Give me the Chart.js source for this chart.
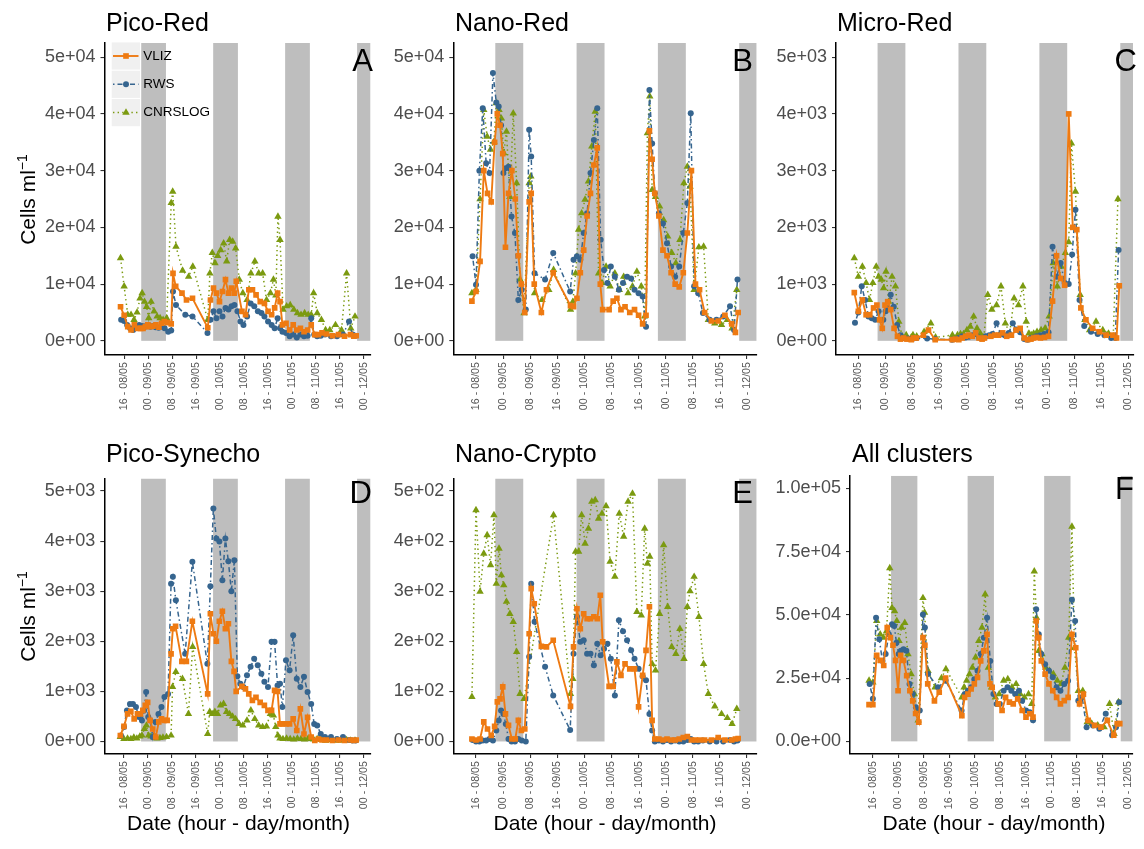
<!DOCTYPE html>
<html>
<head>
<meta charset="utf-8">
<script src="https://cdn.jsdelivr.net/npm/chart.js@4.4.1/dist/chart.umd.min.js"></script>
<style>
  body { margin: 0; width: 1144px; height: 849px; background: #fff; position: relative; overflow: hidden;
         font-family: "Liberation Sans", Arial, sans-serif; }
  canvas { position: absolute; }
  .t { position: absolute; white-space: nowrap; line-height: 1; color: #000; z-index: 2; }
  .title { font-size: 25px; }
  .letter { font-size: 31px; text-align: right; width: 60px; }
  .axt { font-size: 21px; text-align: center; width: 400px; }
  .ylab { font-size: 21px; text-align: center; width: 200px; height: 21px; transform: rotate(-90deg); }
  .ylab span { font-size: 14px; position: relative; top: -8px; }
</style>
</head>
<body>
<div class="t title" style="left:106px;top:9.5px">Pico-Red</div>
<div class="t title" style="left:455px;top:9.5px">Nano-Red</div>
<div class="t title" style="left:837px;top:9.5px">Micro-Red</div>
<div class="t title" style="left:106px;top:441px">Pico-Synecho</div>
<div class="t title" style="left:455px;top:441px">Nano-Crypto</div>
<div class="t title" style="left:852px;top:440.5px">All clusters</div>

<div class="t letter" style="left:313px;top:44.5px">A</div>
<div class="t letter" style="left:693px;top:44.5px">B</div>
<div class="t letter" style="left:1077px;top:44.5px">C</div>
<div class="t letter" style="left:312px;top:476.5px">D</div>
<div class="t letter" style="left:693px;top:476.5px">E</div>
<div class="t letter" style="left:1074px;top:473px">F</div>

<div class="t ylab" style="left:-73px;top:188.5px">Cells ml<span>&minus;1</span></div>
<div class="t ylab" style="left:-73px;top:605.5px">Cells ml<span>&minus;1</span></div>

<div class="t axt" style="left:38.5px;top:812px">Date (hour - day/month)</div>
<div class="t axt" style="left:405px;top:812px">Date (hour - day/month)</div>
<div class="t axt" style="left:794px;top:812px">Date (hour - day/month)</div>

<script>
// sampling times, hours since 00:00 on 08/05
const tVLIZ = [14.8,16.0,17.2,18.3,19.4,20.5,21.5,22.3,23.1,23.9,24.7,25.6,26.6,27.6,28.5,29.4,30.4,31.7,32.3,33.2,35.3,36.8,38.8,43.9,44.8,45.8,46.8,47.8,48.8,49.8,50.8,51.8,52.7,53.4,55.3,56.5,57.6,58.8,60.0,61.4,62.8,64.0,65.2,66.2,67.2,68.0,68.8,70.0,71.2,72.4,73.6,74.8,76.0,77.2,78.4,79.6,80.8,82.0,83.5,85.5,87.5,89.5,91.5,92.6,93.4];
const tRWS = [15.0,16.0,17.0,18.0,19.0,20.0,21.0,22.0,22.7,23.4,24.1,24.8,25.6,26.5,27.5,28.5,29.5,30.7,31.7,32.3,33.3,36.4,38.8,43.8,44.8,45.8,46.8,47.8,48.8,49.8,50.8,51.8,52.8,53.8,54.8,55.8,57.0,58.2,59.4,60.6,61.8,62.8,64.0,65.2,66.2,67.2,68.0,68.8,70.0,71.2,72.4,73.6,74.8,76.0,77.2,78.4,79.4,80.4,81.6,83.0,85.0,87.0,89.0,91.0,92.2,93.2];
const tCNRS = [14.8,16.0,17.2,18.3,19.3,20.3,21.3,22.0,22.8,23.5,24.2,25.0,26.0,27.0,28.0,29.0,30.2,31.7,32.2,33.3,35.5,37.5,38.9,43.9,44.6,45.4,46.3,47.2,48.2,49.2,50.2,51.2,52.2,53.2,54.4,55.6,57.0,58.3,59.6,60.9,62.2,63.5,64.8,65.8,66.6,67.3,68.0,69.0,70.2,71.4,72.6,73.8,75.0,76.2,77.4,78.4,79.2,80.4,81.8,83.2,84.6,86.5,88.5,90.2,91.6,93.0];

// Pico-Red
const picoRedVLIZ = [6000,4500,2500,1900,2800,2200,2200,2200,2500,2800,2500,2600,2800,2400,3100,3400,3200,3000,11900,9600,8400,7200,7500,2300,7200,9300,8400,6900,8700,10800,8400,9300,8400,10500,5200,4600,9000,9000,8100,6900,6600,5200,4600,5800,8400,6900,2800,3100,1900,2800,1900,2200,1600,1900,2800,1100,1100,1400,1200,900,1100,800,1100,800,900];
const picoRedRWS = [3700,3500,2800,2200,1900,2500,2800,2600,2400,2600,2800,2500,2600,2400,2300,2500,2200,1600,1800,8700,6300,4600,4300,1400,3700,5200,4000,5200,4300,5800,5500,6100,6300,5200,3400,2800,4300,6600,6100,5200,4900,4300,3400,2800,2200,4000,2200,1600,1400,800,1100,600,1100,800,900,4000,1100,800,900,1100,800,800,1100,3400,1100,900];
const picoRedCNRS = [14600,9600,4600,4600,3700,5000,7500,8400,6900,6000,4000,6900,5200,4300,4000,3700,4000,24300,26300,16600,12400,11300,13100,3700,11900,15500,13700,15000,16000,17200,14000,17800,17500,16300,10800,8400,7200,11900,14000,11900,11900,7200,8400,10800,8000,21900,17800,5500,6100,6300,5500,4900,4600,4900,4600,4600,8400,4900,3700,1900,1900,2800,1900,11900,2200,4300];

// Nano-Red
const nanoRedVLIZ = [7000,8700,14000,30000,26000,24500,35000,40000,38000,33000,16500,26000,30000,25000,15000,10000,5000,24500,26000,10000,5000,9000,12000,6200,6000,7500,12000,16000,22000,26000,31000,34000,10000,5500,5500,7000,7500,5500,6000,5000,5500,4500,3000,4500,37000,32000,26000,22000,16000,15000,12000,10000,9500,12000,19000,30000,10000,9000,5000,3500,3500,4500,3000,1500,5000];
const nanoRedRWS = [14900,9900,30000,41000,31300,29600,47200,42000,41300,38000,29600,30400,30700,21900,19000,7200,9000,5500,37200,32500,11900,10800,15500,8700,14300,14900,14300,19000,22500,29600,35400,41000,17800,12500,10200,13100,11300,9000,10200,11300,11000,9000,8400,7800,2500,44200,34800,26000,22500,20700,17200,13100,11300,13100,19000,24300,40100,9600,8400,4900,3700,3700,4300,6100,1900,10800];
const nanoRedCNRS = [8400,9000,25000,40700,36000,33700,35100,41900,40700,39200,33100,36900,25400,40100,27800,10800,4900,27800,29000,8400,7200,9000,12500,5500,6900,11900,19600,22500,24900,28100,34300,40400,11900,10200,13100,9600,11900,9000,11300,8400,9600,12200,9600,4300,36600,43100,26600,25400,23700,21300,18400,15500,13700,17800,27800,30700,27200,9000,16500,16600,3700,3100,2800,3700,2200,9000];

// Micro-Red
const microRedVLIZ = [850,520,720,460,460,580,630,370,220,630,690,550,220,80,30,50,30,20,50,50,100,190,20,20,30,20,50,80,100,80,140,50,30,50,80,100,100,140,80,100,190,220,50,20,30,50,60,50,60,80,700,1500,1100,980,4000,2000,1960,580,370,220,160,100,100,50,970];
const microRedRWS = [320,500,960,720,430,400,370,520,370,370,520,580,810,600,280,100,50,40,30,40,50,40,30,20,30,50,80,60,70,100,120,60,50,80,100,120,310,120,100,140,310,200,150,30,20,50,60,80,100,120,150,1660,1130,1370,1020,1000,1520,2310,720,260,160,120,100,50,50,1600];
const microRedCNRS = [1460,1130,1310,1020,720,1020,1310,1130,1080,930,1220,690,1130,960,340,80,100,60,100,80,160,310,60,100,40,100,120,120,190,250,430,220,130,60,810,550,630,960,310,130,750,630,960,340,130,100,130,160,190,220,430,1370,960,1310,1550,1740,3480,2630,810,370,190,340,190,130,80,2500];

// Pico-Synecho
const synechoVLIZ = [120,300,550,600,450,550,550,620,720,780,420,250,90,390,450,420,420,1750,2250,2300,1600,1600,2400,950,2550,2150,2000,2400,2600,2250,2350,1600,1400,1000,1100,1050,950,820,880,780,720,620,620,1020,1000,350,350,350,350,450,220,650,150,480,90,20,50,30,30,20,30,20,30,20,30];
const synechoRWS = [120,290,620,750,750,690,490,420,620,990,490,420,90,390,550,690,890,950,3150,3290,2820,1750,3590,1550,3100,4650,4050,3990,3220,4050,3600,3000,3620,1300,1150,1090,1320,1490,1650,1520,1350,1190,1090,1990,1990,1120,1150,690,1620,1420,2120,1250,1090,1290,990,750,350,320,150,90,90,50,90,30,20,20];
const synechoCNRS = [90,50,60,50,80,60,100,120,250,320,120,100,80,60,70,80,90,120,1090,1390,1250,550,1890,150,590,550,590,550,720,750,590,550,500,450,350,320,420,620,450,320,290,300,550,520,290,120,60,50,60,50,40,60,50,40,60,50,40,50,30,20,30,20,20,30,20,20];

// Nano-Crypto
const cryptoVLIZ = [5,3,5,39,25,12,30,79,85,109,55,32,5,5,42,22,25,215,305,275,190,189,202,70,189,265,225,255,245,245,249,245,292,199,110,110,159,132,155,145,145,69,132,182,269,42,5,5,3,5,3,3,5,8,10,3,3,3,3,3,8,3,3,5,6];
const cryptoRWS = [3,0,0,2,2,5,2,22,42,62,55,35,5,0,0,5,2,0,169,315,239,149,92,23,175,249,199,202,175,175,152,195,172,185,195,165,92,242,220,202,182,165,145,130,122,55,22,0,2,0,3,0,2,0,0,3,5,0,0,2,0,0,0,3,0,2];
const cryptoCNRS = [89,462,299,375,412,352,452,315,385,332,312,279,255,239,179,95,85,null,null,null,null,null,452,95,125,379,379,452,395,425,479,482,445,455,470,359,329,455,409,479,495,259,252,425,355,369,155,142,255,392,269,189,175,225,165,269,300,329,249,155,95,70,55,47,35,65];

// All clusters
const allVLIZ = [14500,14500,34000,32000,30000,45000,41000,38000,32000,20000,34000,32000,26000,20000,16000,11000,7600,41000,38000,22700,16000,19400,25000,10200,17400,18700,20700,22700,25300,31800,35800,42300,22700,21400,14800,12200,17400,15500,14800,16800,12200,9600,10900,9600,47600,41000,31800,26600,22700,20000,17400,14800,16100,17400,42300,37000,14800,18700,8300,6300,5600,8300,2400,7000,7000];
const allRWS = [22700,16800,48900,40400,31800,34500,42300,46300,45600,39000,34500,35800,36400,35800,22700,18700,13500,12200,50200,45000,26600,21400,24000,12200,18700,20000,21400,24600,27900,34500,41000,48900,31800,18700,14800,14800,20000,21400,20000,18700,20000,16100,12200,11500,8300,52200,42300,34500,30500,27900,25300,21400,20000,22700,24000,56000,47600,16100,17400,5600,6300,5000,10900,2400,5600,15500];
const allCNRS = [24000,23300,47600,42300,41000,43600,68500,52800,51500,47600,39700,45000,46900,34500,26600,18700,8300,56700,50900,27900,21400,25000,28600,17400,21400,24000,26600,29200,33200,39700,45000,58100,29200,21400,17400,18700,24000,24600,21400,22700,18700,17400,18700,14800,67200,48900,35800,34500,29200,27900,26600,24000,22700,29200,41000,84900,37000,20000,20000,7600,7000,6300,5600,14800,3000,15500];

// night periods (grey bands)
const nightStart = [21.7, 45.7, 69.7, 93.7];
const nightEnd = [29.95, 53.95, 77.95, 101.95];

// axis ticks
const xTickHours = [16, 24, 32, 40, 48, 56, 64, 72, 80, 88, 96];
const xTickLabels = ['16 - 08/05','00 - 09/05','08 - 09/05','16 - 09/05','00 - 10/05','08 - 10/05','16 - 10/05','00 - 11/05','08 - 11/05','16 - 11/05','00 - 12/05'];
const yTicksRed = [0, 10000, 20000, 30000, 40000, 50000];
const yLabelsRed = ['0e+00','1e+04','2e+04','3e+04','4e+04','5e+04'];
const yTicksThousands = [0, 1000, 2000, 3000, 4000, 5000];
const yLabelsThousands = ['0e+00','1e+03','2e+03','3e+03','4e+03','5e+03'];
const yTicksHundreds = [0, 100, 200, 300, 400, 500];
const yLabelsHundreds = ['0e+00','1e+02','2e+02','3e+02','4e+02','5e+02'];
const yTicksAll = [0, 25000, 50000, 75000, 100000];
const yLabelsAll = ['0.0e+00','2.5e+04','5.0e+04','7.5e+04','1.0e+05'];

const FONT = "'Liberation Sans', Arial, sans-serif";
Chart.defaults.font.family = FONT;

const series = [
  { label: 'VLIZ', color: '#EE7A12', ps: 'rect', r: 4.0, w: 1.9, dash: [] },
  { label: 'RWS', color: '#36658F', ps: 'circle', r: 3.0, w: 1.5, dash: [1.5, 3, 5, 3] },
  { label: 'CNRSLOG', color: '#7B9A10', ps: 'triangle', r: 4.3, w: 1.5, dash: [1.4, 3.2] }
];

const nightBands = {
  id: 'nightBands',
  beforeDatasetsDraw(chart) {
    const { ctx, chartArea: a, scales: { x, y } } = chart;
    const y0 = y.getPixelForValue(0);
    ctx.save();
    ctx.beginPath();
    ctx.rect(a.left, a.top, a.right - a.left, a.bottom - a.top);
    ctx.clip();
    ctx.fillStyle = '#BEBEBE';
    nightStart.forEach((s, i) => {
      const x0 = x.getPixelForValue(s), x1 = x.getPixelForValue(nightEnd[i]);
      ctx.fillRect(x0, a.top, x1 - x0, y0 - a.top);
    });
    ctx.restore();
  }
};

function drawMarker(ctx, style, x, y, r) {
  ctx.beginPath();
  if (style === 'rect') {
    const h = r * Math.SQRT1_2;
    ctx.rect(x - h, y - h, 2 * h, 2 * h);
  } else if (style === 'circle') {
    ctx.arc(x, y, r, 0, Math.PI * 2);
  } else {
    const c = r * 0.866;
    ctx.moveTo(x, y - r);
    ctx.lineTo(x + c, y + r / 2);
    ctx.lineTo(x - c, y + r / 2);
    ctx.closePath();
  }
  ctx.fill();
}

// legend inside panel A (page coordinates, shifted into the canvas)
function keyLegend(ox, oy) {
  const rows = [56, 84.3, 112.6];
  return {
    id: 'keyLegend',
    afterDraw(chart) {
      const ctx = chart.ctx;
      ctx.save();
      series.forEach((s, i) => {
        const cy = rows[i] - oy;
        ctx.fillStyle = '#F0F0F0';
        ctx.fillRect(111.7 - ox, cy - 13.6, 28.3, 27.2);
        ctx.strokeStyle = s.color;
        ctx.lineWidth = s.w;
        ctx.setLineDash(s.dash);
        ctx.beginPath();
        ctx.moveTo(113 - ox, cy);
        ctx.lineTo(138.5 - ox, cy);
        ctx.stroke();
        ctx.setLineDash([]);
        ctx.fillStyle = s.color;
        drawMarker(ctx, s.ps, 126 - ox, cy, s.r);
        ctx.fillStyle = '#000';
        ctx.font = '13.5px ' + FONT;
        ctx.textBaseline = 'middle';
        ctx.fillText(s.label, 143.3 - ox, cy);
      });
      ctx.restore();
    }
  };
}

const panels = [
  { v: [picoRedVLIZ, picoRedRWS, picoRedCNRS], xMin: 9.45, xMax: 98.1, yMin: -2500, yMax: 52500,
    yt: yTicksRed, yl: yLabelsRed, box: [30, 25, 350, 400], area: [104.5, 43, 372.7, 355], legend: true },
  { v: [nanoRedVLIZ, nanoRedRWS, nanoRedCNRS], xMin: 9.3, xMax: 98.8, yMin: -2500, yMax: 52500,
    yt: yTicksRed, yl: yLabelsRed, box: [385, 25, 378, 400], area: [453.3, 43, 756.7, 355] },
  { v: [microRedVLIZ, microRedRWS, microRedCNRS], xMin: 9.37, xMax: 97.5, yMin: -250, yMax: 5250,
    yt: yTicksThousands, yl: yLabelsThousands, box: [770, 25, 374, 400], area: [836, 43, 1138, 355] },
  { v: [synechoVLIZ, synechoRWS, synechoCNRS], xMin: 9.45, xMax: 98.1, yMin: -250, yMax: 5250,
    yt: yTicksThousands, yl: yLabelsThousands, box: [30, 460, 350, 365], area: [104.3, 478.5, 372.7, 754] },
  { v: [cryptoVLIZ, cryptoRWS, cryptoCNRS], xMin: 9.3, xMax: 98.8, yMin: -25, yMax: 525,
    yt: yTicksHundreds, yl: yLabelsHundreds, box: [385, 460, 378, 365], area: [453.3, 478.5, 756.7, 754] },
  { v: [allVLIZ, allRWS, allCNRS], xMin: 8.83, xMax: 97.35, yMin: -5000, yMax: 105000,
    yt: yTicksAll, yl: yLabelsAll, box: [770, 460, 374, 365], area: [850, 474, 1137.7, 754] }
];
const times = [tVLIZ, tRWS, tCNRS];

panels.forEach(p => {
  const [bx, by, bw, bh] = p.box;
  const [L, T, R, B] = p.area;
  const cv = document.createElement('canvas');
  cv.width = bw; cv.height = bh;
  cv.style.left = bx + 'px'; cv.style.top = by + 'px';
  document.body.appendChild(cv);

  const datasets = series.map((s, k) => ({
    label: s.label,
    data: times[k].map((t, i) => ({ x: t, y: p.v[k][i] })),
    borderColor: s.color,
    backgroundColor: s.color,
    pointBackgroundColor: s.color,
    pointBorderWidth: 0,
    pointStyle: s.ps,
    pointRadius: s.r,
    borderWidth: s.w,
    borderDash: s.dash,
    tension: 0,
    spanGaps: true
  }));

  const axisCommon = {
    type: 'linear',
    grid: { display: true, drawOnChartArea: false, drawTicks: true, tickLength: 4, color: '#333', lineWidth: 1.1 },
    border: { display: true, color: '#000', width: 1.5 }
  };

  new Chart(cv, {
    type: 'line',
    data: { datasets },
    options: {
      responsive: false,
      animation: false,
      devicePixelRatio: 1,
      events: [],
      layout: { padding: { left: 0, top: T - by, right: bx + bw - R, bottom: 0 } },
      plugins: { legend: { display: false }, tooltip: { enabled: false } },
      scales: {
        x: Object.assign({}, axisCommon, {
          min: p.xMin, max: p.xMax,
          afterBuildTicks: sc => { sc.ticks = xTickHours.map(v => ({ value: v })); },
          afterFit: sc => { sc.height = by + bh - B; },
          ticks: { autoSkip: false, minRotation: 90, maxRotation: 90, padding: 3, color: '#555',
                   font: { size: 10.7 }, callback: (v, i) => xTickLabels[i] }
        }),
        y: Object.assign({}, axisCommon, {
          min: p.yMin, max: p.yMax,
          afterBuildTicks: sc => { sc.ticks = p.yt.map(v => ({ value: v })); },
          afterFit: sc => { sc.width = L - bx; },
          ticks: { padding: 5, color: '#4D4D4D', font: { size: 18 }, callback: (v, i) => p.yl[i] }
        })
      }
    },
    plugins: p.legend ? [nightBands, keyLegend(bx, by)] : [nightBands]
  });
});
</script>
</body>
</html>
